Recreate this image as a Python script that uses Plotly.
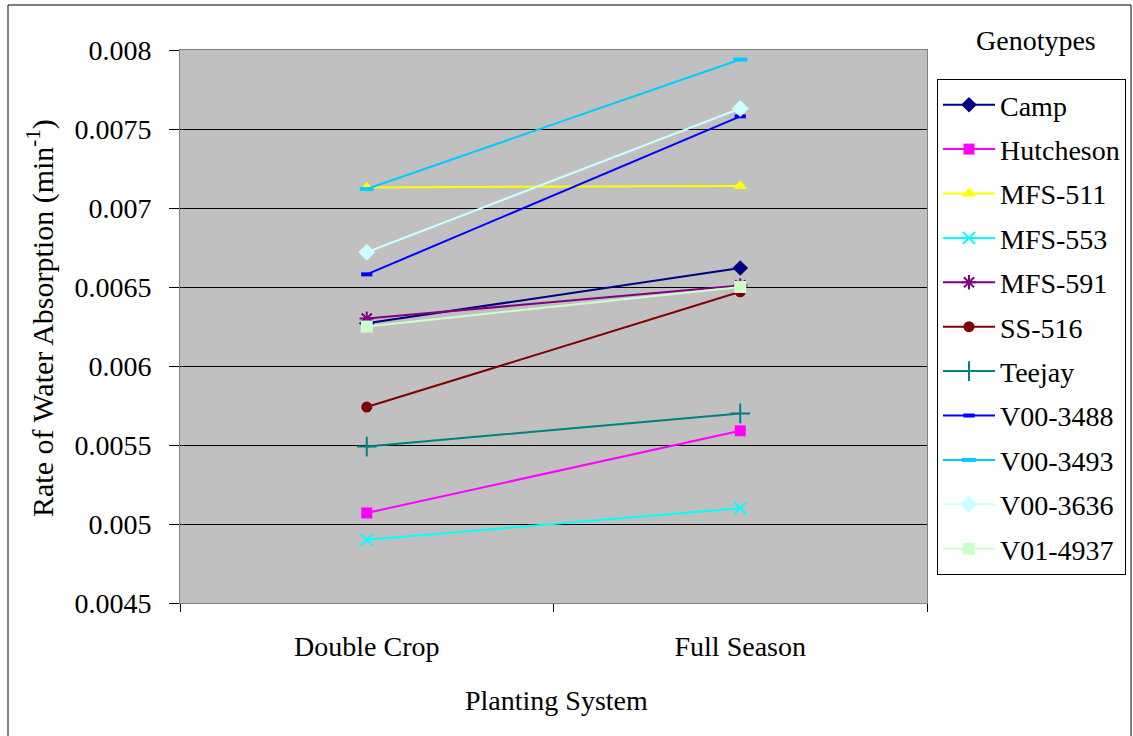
import plotly.graph_objects as go

categories = ["Double Crop", "Full Season"]
genotypes = ["Camp", "Hutcheson", "MFS-511", "MFS-553", "MFS-591", "SS-516",
             "Teejay", "V00-3488", "V00-3493", "V00-3636", "V01-4937"]
values = {
    "Camp":      [0.00627, 0.00662],
    "Hutcheson": [0.00507, 0.00559],
    "MFS-511":   [0.00713, 0.00714],
    "MFS-553":   [0.00490, 0.00510],
    "MFS-591":   [0.00630, 0.00651],
    "SS-516":    [0.00574, 0.00647],
    "Teejay":    [0.00549, 0.00570],
    "V00-3488":  [0.00658, 0.00758],
    "V00-3493":  [0.00712, 0.00794],
    "V00-3636":  [0.00672, 0.00763],
    "V01-4937":  [0.00625, 0.00650],
}
colors = ["#000080", "#FF00FF", "#FFFF00", "#00FFFF", "#800080", "#800000",
          "#008080", "#0000FF", "#00CCFF", "#CCFFFF", "#CCFFCC"]
symbols = ["diamond", "square", "triangle-up", "x-thin-open", "asterisk-open", "circle",
           "cross-thin-open", "line-ew-open", "line-ew-open", "diamond", "square"]
sizes = [12, 11, 12, 12, 12, 11, 14, 8, 10, 13, 12]
ytickvals = [0.0045, 0.005, 0.0055, 0.006, 0.0065, 0.007, 0.0075, 0.008]
yticktext = ["0.0045", "0.005", "0.0055", "0.006", "0.0065", "0.007", "0.0075", "0.008"]

FONT = "Liberation Serif, Times New Roman, serif"
FS = 28

fig = go.Figure()
for g, c, s, sz in zip(genotypes, colors, symbols, sizes):
    open_sym = s.endswith("-open")
    fig.add_trace(go.Scatter(
        x=categories, y=values[g], name=g, mode="lines+markers",
        legendgroup=g,
        line=dict(color=c, width=2),
        marker=dict(symbol=s, size=sz, color=c,
                    line=dict(color=c, width=4 if s.startswith("line") else (2 if open_sym else 0))),
    ))

L, R, T, B = 180, 927, 50, 603
PW, PH = R - L, B - T

def px(x):
    return (x - L) / PW

def py(y):
    return (B - y) / PH

fig.update_layout(
    width=1133, height=736,
    margin=dict(l=L, r=1133 - R, t=T, b=736 - B, autoexpand=False),
    paper_bgcolor="white",
    plot_bgcolor="#C0C0C0",
    font=dict(family=FONT, size=FS, color="black"),
    showlegend=True,
    legend=dict(
        x=px(937), xanchor="left", y=py(79), yanchor="top",
        bordercolor="black", borderwidth=1, bgcolor="white",
        font=dict(family=FONT, size=FS),
        tracegroupgap=5, itemwidth=52,
    ),
    xaxis=dict(
        type="category", range=[-0.5, 1.5], tickson="boundaries",
        ticks="outside", ticklen=8, tickcolor="black",
        showgrid=False, zeroline=False,
        showline=True, linecolor="#808080", linewidth=1, mirror=True,
        tickfont=dict(family=FONT, size=FS),
        ticklabelstandoff=18,
    ),
    yaxis=dict(
        range=[0.0045, 0.008], tickvals=ytickvals, ticktext=yticktext,
        ticks="outside", ticklen=10, tickcolor="black",
        showgrid=True, gridcolor="black", gridwidth=1, zeroline=False,
        showline=True, linecolor="#808080", linewidth=1, mirror=True,
        tickfont=dict(family=FONT, size=FS),
        ticklabelstandoff=12,
    ),
)

fig.add_annotation(text="Planting System", xref="paper", yref="paper",
                   x=px(556), y=py(700), showarrow=False,
                   font=dict(family=FONT, size=FS), xanchor="center", yanchor="middle")
fig.add_annotation(text="Rate of Water Absorption (min<sup>-1</sup>)", xref="paper", yref="paper",
                   x=px(40), y=py(318), showarrow=False, textangle=-90,
                   font=dict(family=FONT, size=30), xanchor="center", yanchor="middle")
fig.add_annotation(text="Genotypes", xref="paper", yref="paper",
                   x=px(1036), y=py(40), showarrow=False,
                   font=dict(family=FONT, size=FS), xanchor="center", yanchor="middle")

fig.add_shape(type="rect", xref="paper", yref="paper",
              x0=px(8), x1=px(1131), y0=py(745), y1=py(5),
              line=dict(color="black", width=1), layer="below")

fig.write_html("out.html", config={"displayModeBar": False},
               post_script="document.body.style.margin='0';")
